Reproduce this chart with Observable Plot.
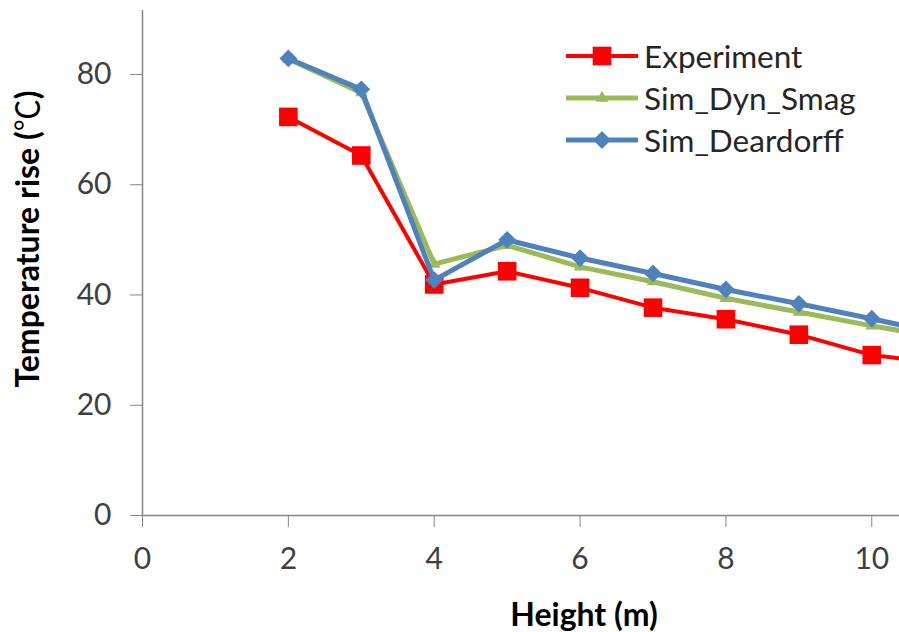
<!DOCTYPE html>
<html>
<head>
<meta charset="utf-8">
<script src="https://cdn.jsdelivr.net/npm/d3@7"></script>
<script src="https://cdn.jsdelivr.net/npm/@observablehq/plot@0.6"></script>
<style>
  html, body { margin: 0; padding: 0; background: #fff; overflow: hidden; }
  #wrap { position: relative; width: 899px; height: 632px; }
  #legend { position: absolute; left: 566px; top: 35px; font-family: Lato, "Open Sans", sans-serif; font-size: 31.5px; color: #262626; }
  .row { display: flex; align-items: center; height: 42px; }
  .row svg { margin-right: 6px; }
</style>
</head>
<body>
<div id="wrap"><div id="chart"></div><div id="legend"></div></div>
<script>
const heights = [2, 3, 4, 5, 6, 7, 8, 9, 10, 11];
const experiment = [72.3, 65.3, 41.9, 44.3, 41.3, 37.7, 35.6, 32.8, 29.1, 27.6];
const simDynSmag = [82.8, 76.7, 45.6, 49.0, 45.1, 42.4, 39.4, 36.9, 34.4, 32.2];
const simDeardorff = [82.9, 77.3, 42.7, 50.0, 46.7, 43.9, 41.0, 38.4, 35.7, 32.8];
const seriesNames = ["Experiment", "Sim_Dyn_Smag", "Sim_Deardorff"];
const xTicks = [0, 2, 4, 6, 8, 10];
const yTicks = [0, 20, 40, 60, 80];
const xTitle = "Height (m)";
const yTitle = "Temperature rise (℃)";

const colors = {"Experiment": "#FF0000", "Sim_Dyn_Smag": "#9BBB59", "Sim_Deardorff": "#4F81BD"};
const symbols = {"Experiment": "square", "Sim_Dyn_Smag": "triangle2", "Sim_Deardorff": "diamond2"};
const radii = {"Experiment": 10.5, "Sim_Dyn_Smag": 6, "Sim_Deardorff": 8};
const widths = {"Experiment": 4, "Sim_Dyn_Smag": 5, "Sim_Deardorff": 5};

const valuesBySeries = [experiment, simDynSmag, simDeardorff];
const data = seriesNames.flatMap((s, i) => heights.map((h, j) => ({series: s, x: h, y: valuesBySeries[i][j]})));

const font = "Lato, 'Open Sans', sans-serif";
const marks = [
  Plot.ruleY([0], {stroke: "#868686", strokeWidth: 1.5}),
  Plot.ruleX([0], {stroke: "#868686", strokeWidth: 1.5}),
  Plot.axisX({ticks: xTicks, tickSize: 12, tickPadding: 20, stroke: "#868686", fill: "#404040", fontSize: 30, label: null}),
  Plot.axisY({ticks: yTicks, tickSize: 12, tickPadding: 19, stroke: "#868686", fill: "#404040", fontSize: 30, label: null})
];
seriesNames.forEach(s => {
  const d = data.filter(r => r.series === s);
  marks.push(Plot.line(d, {x: "x", y: "y", stroke: colors[s], strokeWidth: widths[s], clip: true}));
  marks.push(Plot.dot(d, {x: "x", y: "y", symbol: symbols[s], r: radii[s], fill: colors[s], stroke: "none", clip: true}));
});
marks.push(Plot.text([xTitle], {frameAnchor: "bottom", dx: 63, dy: 100, lineAnchor: "middle", fontSize: 32, fontWeight: "bold", fill: "#000", className: "xtitle"}));
marks.push(Plot.text([yTitle], {frameAnchor: "left", dx: -114, dy: -24, rotate: -90, lineAnchor: "middle", textAnchor: "middle", fontSize: 32, fontWeight: "bold", fill: "#000", className: "ytitle"}));

const chart = Plot.plot({
  width: 899,
  height: 632,
  marginLeft: 142,
  marginRight: 0,
  marginTop: 10,
  marginBottom: 117,
  style: {fontFamily: font, background: "#fff", overflow: "visible"},
  x: {domain: [0, 10.38]},
  y: {domain: [0, 91.6]},
  marks
});
document.getElementById("chart").appendChild(chart);

// render the degree-Celsius sign with a full-width CJK glyph as in the source
const yt = chart.querySelector(".ytitle text");
if (yt) {
  const parts = yTitle.split("℃");
  yt.textContent = "";
  const t1 = document.createElementNS("http://www.w3.org/2000/svg", "tspan");
  t1.textContent = parts[0];
  const t2 = document.createElementNS("http://www.w3.org/2000/svg", "tspan");
  t2.textContent = "℃";
  t2.setAttribute("font-family", "'Noto Sans CJK SC', sans-serif");
  t2.setAttribute("font-weight", "normal");
  const t3 = document.createElementNS("http://www.w3.org/2000/svg", "tspan");
  t3.textContent = parts[1];
  yt.append(t1, t2, t3);
}

const legend = document.getElementById("legend");
seriesNames.forEach(s => {
  const row = document.createElement("div");
  row.className = "row";
  const symType = s === "Experiment" ? d3.symbolSquare : s === "Sim_Dyn_Smag" ? d3.symbolTriangle2 : d3.symbolDiamond2;
  const size = Math.PI * radii[s] * radii[s];
  const path = d3.symbol(symType, size)();
  row.innerHTML = `<svg width="72" height="30"><line x1="0" x2="72" y1="15" y2="15" stroke="${colors[s]}" stroke-width="${widths[s]}"/><path transform="translate(36,15)" d="${path}" fill="${colors[s]}"/></svg><span>${s}</span>`;
  legend.appendChild(row);
});
</script>
</body>
</html>
